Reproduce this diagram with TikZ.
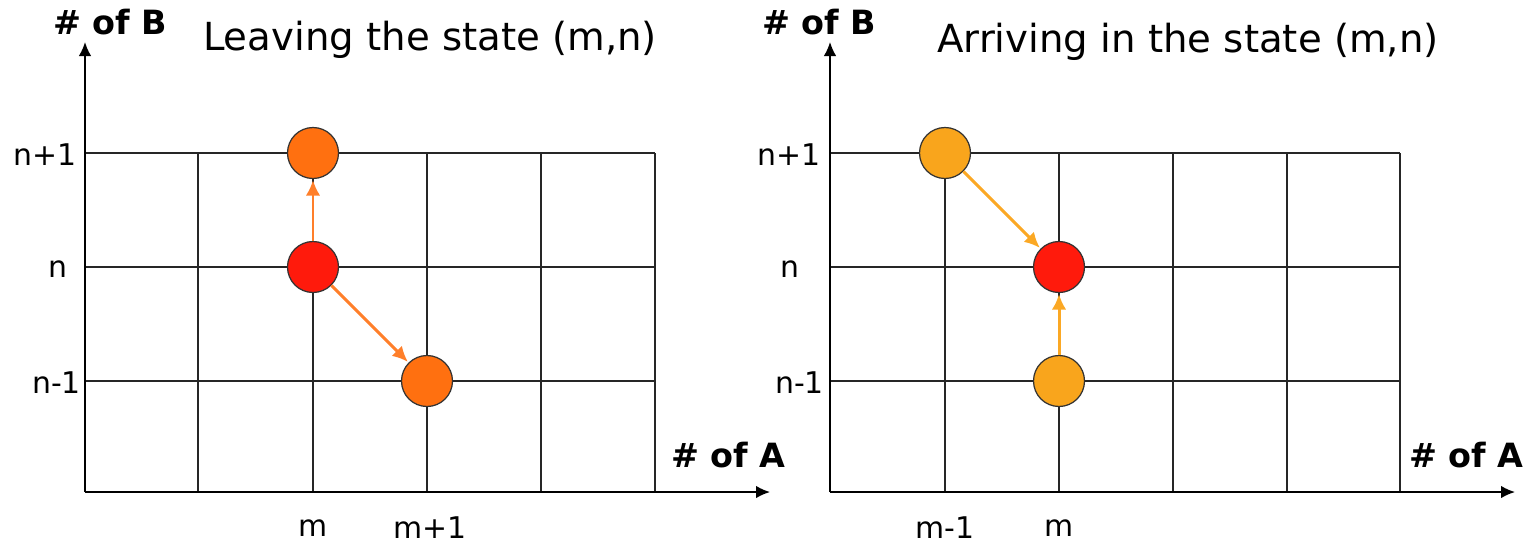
\documentclass[tikz,border=0pt]{standalone}
\usepackage{fontspec}
\setmainfont{DejaVu Sans}
\usetikzlibrary{arrows.meta}

\definecolor{stateRed}{HTML}{FF1A0C}
\definecolor{leaveOrange}{HTML}{FF7010}
\definecolor{leaveArrow}{HTML}{FF7F2A}
\definecolor{arriveOrange}{HTML}{F9A51C}
\definecolor{arriveArrow}{HTML}{FBA824}

\begin{document}
\begin{tikzpicture}[
  x=0.2mm, y=-0.2mm,
  grid/.style={line width=1.1pt, draw=black!85},
  axis/.style={line width=0.9pt, -{Latex[length=2.8mm, width=2.5mm]}},
  state/.style={circle, draw=black!80, line width=0.7pt, minimum size=10.2mm, inner sep=0pt},
  move/.style={line width=1.7pt, -{Latex[length=3.1mm, width=2.9mm]}, shorten >=0.5pt},
  ticklab/.style={font=\fontsize{17}{20}\selectfont},
  axislab/.style={font=\fontsize{19}{22}\selectfont\bfseries},
  title/.style={font=\fontsize{22}{26}\selectfont},
]
\useasboundingbox (0,0) rectangle (1531,546);

% ---- left panel: grid ----
\draw[grid] (85,153) -- (655,153);
\draw[grid] (85,267) -- (655,267);
\draw[grid] (85,381) -- (655,381);
\draw[grid] (198,153) -- (198,492);
\draw[grid] (313,153) -- (313,492);
\draw[grid] (427,153) -- (427,492);
\draw[grid] (541,153) -- (541,492);
\draw[grid] (655,153) -- (655,492);

% ---- left panel: axes ----
\coordinate (oL) at (85,492);
\coordinate (yL) at (85,42);
\coordinate (xL) at (770,492);
\draw[axis] (oL) -- (yL);
\draw[axis] (oL) -- (xL);

\node[axislab, anchor=west] (bL) at (47,22) {\# of B};
\node[axislab, anchor=west] (aL) at (665,455) {\# of A};
\node[title] (titleL) at (430,40) {Leaving the state (m,n)};

\node[ticklab, anchor=east] (n1L) at (83,155) {n+1};
\node[ticklab, anchor=east] (n0L) at (74,269) {n};
\node[ticklab, anchor=east] (nm1L) at (87,383) {n-1};
\node[ticklab] (m0L) at (313,528) {m};
\node[ticklab] (m1L) at (430,528) {m+1};

% ---- left panel: states ----
\node[state, fill=stateRed] (cL) at (313,267) {};
\node[state, fill=leaveOrange] (upL) at (313,153) {};
\node[state, fill=leaveOrange] (drL) at (427,381) {};
\draw[move, leaveArrow] (cL) -- (upL);
\draw[move, leaveArrow] (cL) -- (drL);

% ---- right panel: grid ----
\draw[grid] (830,153) -- (1400,153);
\draw[grid] (830,267) -- (1400,267);
\draw[grid] (830,381) -- (1400,381);
\draw[grid] (945,153) -- (945,492);
\draw[grid] (1059,153) -- (1059,492);
\draw[grid] (1173,153) -- (1173,492);
\draw[grid] (1287,153) -- (1287,492);
\draw[grid] (1400,153) -- (1400,492);

% ---- right panel: axes ----
\coordinate (oR) at (830,492);
\coordinate (yR) at (830,42);
\coordinate (xR) at (1515,492);
\draw[axis] (oR) -- (yR);
\draw[axis] (oR) -- (xR);

\node[axislab, anchor=west] (bR) at (756,22) {\# of B};
\node[axislab, anchor=west] (aR) at (1403,455) {\# of A};
\node[title] (titleR) at (1188,42) {Arriving in the state (m,n)};

\node[ticklab, anchor=east] (n1R) at (827,155) {n+1};
\node[ticklab, anchor=east] (n0R) at (806,269) {n};
\node[ticklab, anchor=east] (nm1R) at (830,383) {n-1};
\node[ticklab] (m1R) at (945,528) {m-1};
\node[ticklab] (m0R) at (1059,528) {m};

% ---- right panel: states ----
\node[state, fill=stateRed] (cR) at (1059,267) {};
\node[state, fill=arriveOrange] (ulR) at (945,153) {};
\node[state, fill=arriveOrange] (dnR) at (1059,381) {};
\draw[move, arriveArrow] (ulR) -- (cR);
\draw[move, arriveArrow] (dnR) -- (cR);

\end{tikzpicture}
\end{document}
